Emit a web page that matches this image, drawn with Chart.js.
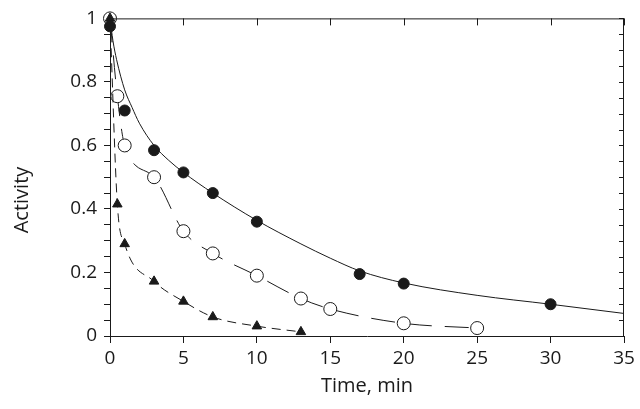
<!DOCTYPE html>
<html><head><meta charset="utf-8">
<script src="https://cdn.jsdelivr.net/npm/chart.js@4/dist/chart.umd.min.js"></script>
<style>html,body{margin:0;padding:0;background:#fff}</style>
</head><body>
<canvas id="c" width="640" height="409" style="display:block;width:640px;height:409px"></canvas>
<script>
// ---- data ----
const xTickValues = [0, 5, 10, 15, 20, 25, 30, 35];
const yTickLabels = ['0', '0.2', '0.4', '0.6', '0.8', '1'];
const xTitle = 'Time, min';
const yTitle = 'Activity';

// fitted curve through the filled circles
const fitX = [0, 0.2, 0.45, 1, 1.5, 2, 3, 4, 5, 7, 10, 13, 15, 17, 20, 25, 30, 35];
const fitY = [1.0, 0.93, 0.87, 0.775, 0.72, 0.67, 0.6, 0.553, 0.515, 0.45, 0.364, 0.29, 0.245, 0.205, 0.167, 0.128, 0.1, 0.071];

const filledX = [0, 1, 3, 5, 7, 10, 17, 20, 30];
const filledY = [0.975, 0.71, 0.585, 0.515, 0.45, 0.36, 0.195, 0.165, 0.10];

const openX = [0, 0.5, 1, 3, 5, 7, 10, 13, 15, 20, 25];
const openY = [1.0, 0.755, 0.6, 0.5, 0.33, 0.26, 0.19, 0.118, 0.085, 0.04, 0.025];

const triX = [0, 0.5, 1, 3, 5, 7, 10, 13];
const triY = [1.0, 0.415, 0.29, 0.172, 0.109, 0.06, 0.031, 0.013];

const pts = (xs, ys) => xs.map((x, i) => ({x: x, y: ys[i]}));
const FONT = "'Open Sans', sans-serif";
const INK = '#1a1a1a';

const frame = {
  id: 'frame',
  afterDraw(chart) {
    const ctx = chart.ctx, a = chart.chartArea;
    const xs = chart.scales.x, ys = chart.scales.y;
    ctx.save();
    ctx.strokeStyle = INK; ctx.lineWidth = 1;
    ctx.beginPath();
    ctx.moveTo(a.left, a.top + 0.5); ctx.lineTo(a.right, a.top + 0.5);
    ctx.moveTo(a.right - 0.5, a.top); ctx.lineTo(a.right - 0.5, a.bottom);
    xs.ticks.forEach(t => {
      const px = Math.round(xs.getPixelForValue(t.value)) + 0.5;
      ctx.moveTo(px, a.top); ctx.lineTo(px, a.top + 7);
    });
    ys.ticks.forEach(t => {
      const py = Math.round(ys.getPixelForValue(t.value)) + 0.5;
      ctx.moveTo(a.right, py); ctx.lineTo(a.right - 5, py);
    });
    ctx.stroke();
    // axis titles
    ctx.fillStyle = INK;
    ctx.font = "20px " + FONT;
    ctx.textAlign = 'center'; ctx.textBaseline = 'middle';
    ctx.fillText(xTitle, (a.left + a.right) / 2, 386);
    ctx.translate(22, 200);
    ctx.rotate(-Math.PI / 2);
    ctx.fillText(yTitle, 0, 0);
    ctx.restore();
  }
};

new Chart(document.getElementById('c'), {
  type: 'scatter',
  data: {
    datasets: [
      { label: 'filled', data: pts(filledX, filledY), showLine: false,
        pointStyle: 'circle', pointRadius: 5.5, pointBackgroundColor: INK, pointBorderColor: INK, pointBorderWidth: 1, clip: false },
      { label: 'triangles', data: pts(triX, triY), showLine: true, borderColor: INK, borderWidth: 1, borderDash: [9, 6],
        cubicInterpolationMode: 'monotone', pointStyle: 'triangle', pointRadius: 5.5, pointBackgroundColor: INK, pointBorderColor: INK, pointBorderWidth: 1, clip: false },
      { label: 'open', data: pts(openX, openY), showLine: true, borderColor: INK, borderWidth: 1, borderDash: [24, 13],
        cubicInterpolationMode: 'monotone', pointStyle: 'circle', pointRadius: 6.5, pointBackgroundColor: '#fff', pointBorderColor: INK, pointBorderWidth: 1, clip: false },
      { label: 'fit', data: pts(fitX, fitY), showLine: true, borderColor: INK, borderWidth: 1,
        cubicInterpolationMode: 'monotone', pointRadius: 0, clip: false }
    ]
  },
  options: {
    responsive: false, animation: false, devicePixelRatio: 1,
    layout: { padding: { top: 11, right: 16, left: 0, bottom: 0 } },
    plugins: { legend: { display: false }, tooltip: { enabled: false } },
    scales: {
      x: {
        type: 'linear', min: 0, max: 35,
        afterFit: s => { s.height = 73; },
        border: { display: true, color: INK, width: 1 },
        grid: { display: true, drawOnChartArea: false, drawTicks: true, tickLength: 7, tickColor: INK, color: INK },
        ticks: { stepSize: 5, autoSkip: false, maxRotation: 0, padding: 4, color: INK, font: { family: FONT, size: 19 },
          callback: v => xTickValues.includes(v) ? String(v) : '' },
        title: { display: false }
      },
      y: {
        type: 'linear', min: 0, max: 1,
        afterFit: s => { s.width = 110; },
        border: { display: true, color: INK, width: 1 },
        grid: { display: true, drawOnChartArea: false, drawTicks: true, tickLength: 6, tickColor: INK, color: INK },
        ticks: { stepSize: 0.05, autoSkip: false, padding: 7, color: INK, font: { family: FONT, size: 19 },
          callback: v => { const k = v * 5; return Math.abs(k - Math.round(k)) < 1e-6 ? yTickLabels[Math.round(k)] : ''; } },
        title: { display: false }
      }
    }
  },
  plugins: [frame]
});
</script>
</body></html>
